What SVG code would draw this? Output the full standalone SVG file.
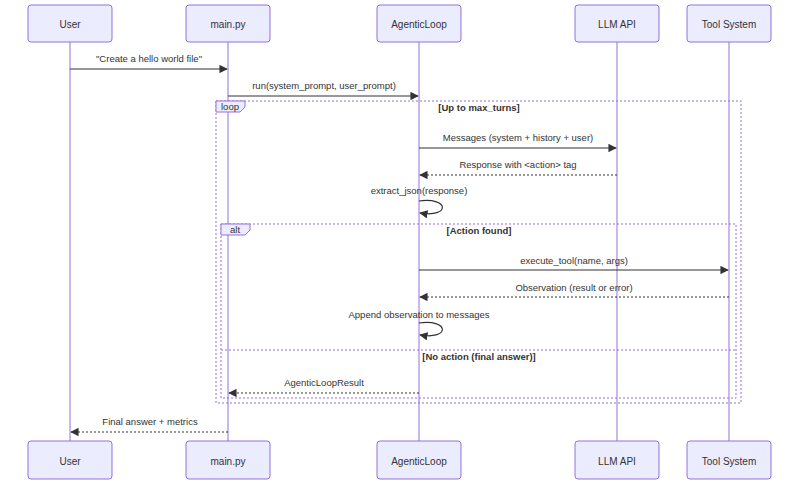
<svg xmlns="http://www.w3.org/2000/svg" width="800" height="486" viewBox="0 0 800 486">
<style>
.box{fill:#ECECFF;stroke:#9370DB;stroke-width:1}
.bt{font-family:"Liberation Sans",Arial,sans-serif;font-size:10px;fill:#333;text-anchor:middle;dominant-baseline:central}
.life{stroke:#9370DB;stroke-width:1}
.msg{stroke:#333;stroke-width:1.2;fill:none}
.dot{stroke-dasharray:2,2}
.mt{font-family:"Liberation Sans",Arial,sans-serif;font-size:9.5px;fill:#333;text-anchor:middle}
.frame{fill:none;stroke:#9370DB;stroke-width:1;stroke-dasharray:2,2}
.lbl{fill:#ECECFF;stroke:#9370DB;stroke-width:1}
.ft{font-family:"Liberation Sans",Arial,sans-serif;font-size:9.5px;fill:#333}
.fb{font-family:"Liberation Sans",Arial,sans-serif;font-size:9.5px;fill:#333;text-anchor:middle;font-weight:bold}
</style>
<defs>
<marker id="ah" viewBox="0 0 10 10" refX="9" refY="5" markerWidth="7" markerHeight="7" orient="auto"><path d="M0,0 L10,5 L0,10 z" fill="#333"/></marker>
</defs>
<rect width="800" height="486" fill="#fff"/>
<g id="lifelines">
<line class="life" x1="70" y1="42" x2="70" y2="441"/>
<line class="life" x1="228" y1="42" x2="228" y2="441"/>
<line class="life" x1="419" y1="42" x2="419" y2="441"/>
<line class="life" x1="617" y1="42" x2="617" y2="441"/>
<line class="life" x1="729" y1="42" x2="729" y2="441"/>
</g>
<g id="frames">
<rect class="frame" x="216" y="101" width="525" height="302"/>
<path class="lbl" d="M216,101 H245 V107 L240,112 H216 Z"/>
<text class="ft" x="221" y="110">loop</text>
<text class="fb" x="479" y="111">[Up to max_turns]</text>
<rect class="frame" x="221" y="224" width="515" height="174"/>
<path class="lbl" d="M221,224 H250 V230 L245,235 H221 Z"/>
<text class="ft" x="230" y="233">alt</text>
<text class="fb" x="479" y="234">[Action found]</text>
<line class="frame" x1="221" y1="350" x2="736" y2="350"/>
<text class="fb" x="479" y="360">[No action (final answer)]</text>
</g>
<g id="connectors">
<line class="msg" x1="70" y1="69" x2="227" y2="69" marker-end="url(#ah)"/>
<text class="mt" x="149" y="62">"Create a hello world file"</text>
<line class="msg" x1="228" y1="96" x2="418" y2="96" marker-end="url(#ah)"/>
<text class="mt" x="324" y="89">run(system_prompt, user_prompt)</text>
<line class="msg" x1="419" y1="148" x2="616" y2="148" marker-end="url(#ah)"/>
<text class="mt" x="518" y="141">Messages (system + history + user)</text>
<line class="msg dot" x1="617" y1="175" x2="420" y2="175" marker-end="url(#ah)"/>
<text class="mt" x="518" y="168">Response with &lt;action&gt; tag</text>
<path class="msg" d="M419,201 C450,197 450,218 420,213" marker-end="url(#ah)"/>
<text class="mt" x="419" y="194">extract_json(response)</text>
<line class="msg" x1="419" y1="270" x2="728" y2="270" marker-end="url(#ah)"/>
<text class="mt" x="574" y="264">execute_tool(name, args)</text>
<line class="msg dot" x1="729" y1="297" x2="420" y2="297" marker-end="url(#ah)"/>
<text class="mt" x="574" y="291">Observation (result or error)</text>
<path class="msg" d="M419,323 C450,319 450,340 420,335" marker-end="url(#ah)"/>
<text class="mt" x="419" y="318">Append observation to messages</text>
<line class="msg dot" x1="419" y1="393" x2="229" y2="393" marker-end="url(#ah)"/>
<text class="mt" x="324" y="386">AgenticLoopResult</text>
<line class="msg dot" x1="228" y1="432" x2="71" y2="432" marker-end="url(#ah)"/>
<text class="mt" x="150" y="425">Final answer + metrics</text>
</g>
<g id="User"><rect class="box" x="28" y="5" width="84" height="37" rx="3"/><text class="bt" x="70" y="24">User</text>
<rect class="box" x="28" y="441" width="84" height="38" rx="3"/><text class="bt" x="70" y="461">User</text></g>
<g id="main"><rect class="box" x="186" y="5" width="84" height="37" rx="3"/><text class="bt" x="228" y="24">main.py</text>
<rect class="box" x="186" y="441" width="84" height="38" rx="3"/><text class="bt" x="228" y="461">main.py</text></g>
<g id="AgenticLoop"><rect class="box" x="377" y="5" width="84" height="37" rx="3"/><text class="bt" x="419" y="24">AgenticLoop</text>
<rect class="box" x="377" y="441" width="84" height="38" rx="3"/><text class="bt" x="419" y="461">AgenticLoop</text></g>
<g id="LLM"><rect class="box" x="575" y="5" width="84" height="37" rx="3"/><text class="bt" x="617" y="24">LLM API</text>
<rect class="box" x="575" y="441" width="84" height="38" rx="3"/><text class="bt" x="617" y="461">LLM API</text></g>
<g id="Tool"><rect class="box" x="687" y="5" width="84" height="37" rx="3"/><text class="bt" x="729" y="24">Tool System</text>
<rect class="box" x="687" y="441" width="84" height="38" rx="3"/><text class="bt" x="729" y="461">Tool System</text></g>
</svg>
